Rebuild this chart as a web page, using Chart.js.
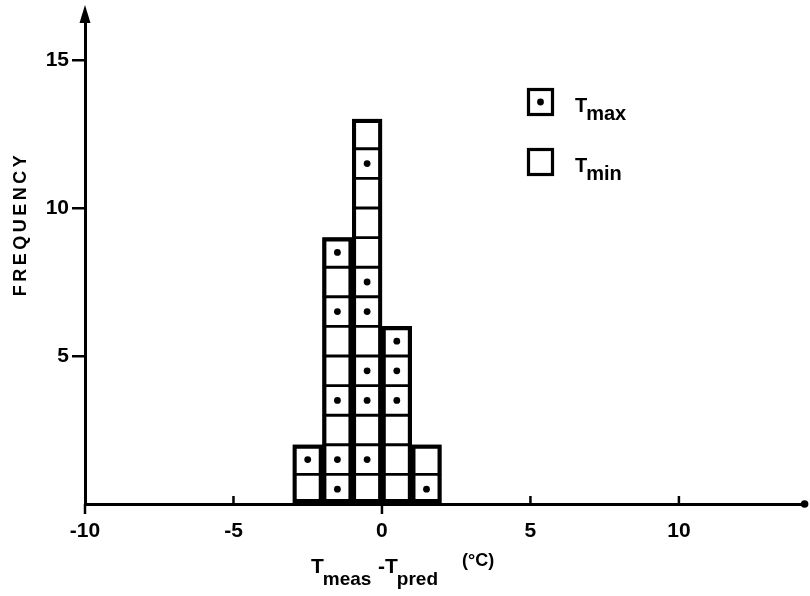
<!DOCTYPE html>
<html><head><meta charset="utf-8">
<script src="https://cdn.jsdelivr.net/npm/chart.js@4/dist/chart.umd.min.js"></script>
<style>html,body{margin:0;padding:0;background:#fff;}#wrap{width:810px;height:596px;position:relative;}</style>
</head><body><div id="wrap"><canvas id="c" width="810" height="596"></canvas></div>
<script>
// centres of the 1 °C wide classes of T_meas − T_pred
const binCenters = [-2.5, -1.5, -0.5, 0.5, 1.5];
// squares of each class, from the bottom up: 'max' = T_max (dotted square), 'min' = T_min (empty square)
const binA = ['min', 'max'];
const binB = ['max', 'max', 'min', 'max', 'min', 'min', 'max', 'min', 'max'];
const binC = ['min', 'max', 'min', 'max', 'max', 'min', 'max', 'max', 'min', 'min', 'min', 'max', 'min'];
const binD = ['min', 'min', 'min', 'max', 'max', 'max'];
const binE = ['max', 'min'];
const binCells = [binA, binB, binC, binD, binE];
const xTickValues = [-10, -5, 0, 5, 10];
const yTickValues = [5, 10, 15];
const seriesNames = ['max', 'min'];
const xRange = [-10, 14.3];
const yRange = [0, 16.5];

const cellData = [], dotData = [], columnData = [];
binCells.forEach((cells, i) => {
  cells.forEach((kind, k) => {
    cellData.push({x: binCenters[i], y: [k, k + 1]});
    if (kind === seriesNames[0]) dotData.push({x: binCenters[i], y: k + 0.5});
  });
  columnData.push({x: binCenters[i], y: [0, cells.length]});
});

const FONT = "'Liberation Sans', Arial, sans-serif";

function sub(ctx, x, y, main, subTxt, mainSize, subSize, drop) {
  ctx.font = 'bold ' + mainSize + 'px ' + FONT;
  ctx.fillText(main, x, y);
  const w = ctx.measureText(main).width;
  ctx.font = 'bold ' + subSize + 'px ' + FONT;
  ctx.fillText(subTxt, x + w - 1, y + drop);
  return x + w - 1 + ctx.measureText(subTxt).width;
}

const decor = {
  id: 'decor',
  afterDraw(chart) {
    const {ctx, chartArea: a, scales: {x}} = chart;
    ctx.save();
    ctx.fillStyle = '#000';
    ctx.strokeStyle = '#000';
    // arrow head on the y axis
    ctx.beginPath();
    ctx.moveTo(a.left, 5); ctx.lineTo(a.left - 5.5, 23); ctx.lineTo(a.left + 5.5, 23); ctx.closePath(); ctx.fill();
    // dot at the end of the x axis
    ctx.beginPath(); ctx.arc(a.right - 2, a.bottom, 3.8, 0, Math.PI * 2); ctx.fill();
    // x tick marks
    ctx.lineWidth = 2.5;
    xTickValues.forEach(v => {
      const px = x.getPixelForValue(v);
      const down = (v === xRange[0] || v === 0);
      ctx.beginPath(); ctx.moveTo(px, a.bottom); ctx.lineTo(px, down ? a.bottom + 10 : a.bottom - 8); ctx.stroke();
    });
    // y-axis title
    ctx.save();
    ctx.translate(26, 226);
    ctx.rotate(-Math.PI / 2);
    ctx.font = 'bold 18px ' + FONT;
    ctx.letterSpacing = '3.5px';
    ctx.textAlign = 'center';
    ctx.textBaseline = 'alphabetic';
    ctx.fillText('FREQUENCY', 2, 0);
    ctx.restore();
    // x-axis title
    ctx.textAlign = 'left';
    ctx.textBaseline = 'alphabetic';
    sub(ctx, 311, 573, 'T', 'meas', 21, 19, 12);
    sub(ctx, 378, 573, '-T', 'pred', 21, 19, 12);
    ctx.font = 'bold 18px ' + FONT;
    ctx.fillText('(\u00B0C)', 462, 566);
    // legend
    const boxes = [{y: 88}, {y: 148}];
    seriesNames.forEach((name, i) => {
      const by = boxes[i].y;
      ctx.lineWidth = 3.2;
      ctx.strokeRect(528.5, by + 1.5, 24, 25);
      if (name === seriesNames[0]) { ctx.beginPath(); ctx.arc(540.5, by + 14, 3.4, 0, Math.PI * 2); ctx.fill(); }
      sub(ctx, 575, by + 24, 'T', name, 20, 20, 8);
    });
    ctx.restore();
  }
};

new Chart(document.getElementById('c'), {
  type: 'bar',
  data: {
    datasets: [
      {type: 'scatter', data: dotData, pointRadius: 3.4, pointHoverRadius: 3.4, backgroundColor: '#000', borderWidth: 0, order: 0},
      {data: columnData, backgroundColor: 'rgba(0,0,0,0)', borderColor: '#000', borderWidth: 3.5, borderSkipped: false, grouped: false, barPercentage: 1, categoryPercentage: 1, order: 1},
      {data: cellData, backgroundColor: '#fff', borderColor: '#000', borderWidth: 1.8, borderSkipped: false, grouped: false, barPercentage: 1, categoryPercentage: 1, order: 2}
    ]
  },
  options: {
    responsive: false,
    animation: false,
    events: [],
    layout: {padding: {top: 13, right: 2, left: 0, bottom: 0}},
    plugins: {legend: {display: false}, tooltip: {enabled: false}},
    scales: {
      x: {
        type: 'linear', min: xRange[0], max: xRange[1], offset: false,
        grid: {display: false, offset: false, drawTicks: false},
        border: {display: true, color: '#000', width: 3},
        ticks: {stepSize: 5, includeBounds: false, padding: 15, color: '#000', maxRotation: 0,
          font: {family: FONT, size: 21, weight: 'bold'},
          callback: v => xTickValues.includes(v) ? String(v) : ''},
        afterFit(s) { s.height = 92; }
      },
      y: {
        type: 'linear', min: yRange[0], max: yRange[1], stacked: false,
        grid: {drawOnChartArea: false, drawTicks: true, tickLength: 13, lineWidth: 2.5,
          color: c => (c.tick && yTickValues.includes(c.tick.value)) ? '#000' : 'rgba(0,0,0,0)'},
        border: {display: true, color: '#000', width: 3},
        ticks: {stepSize: 5, includeBounds: false, padding: 3, color: '#000',
          font: {family: FONT, size: 21, weight: 'bold'},
          callback: v => yTickValues.includes(v) ? String(v) : ''},
        afterFit(s) { s.width = 85; }
      }
    }
  },
  plugins: [decor]
});
</script></body></html>
